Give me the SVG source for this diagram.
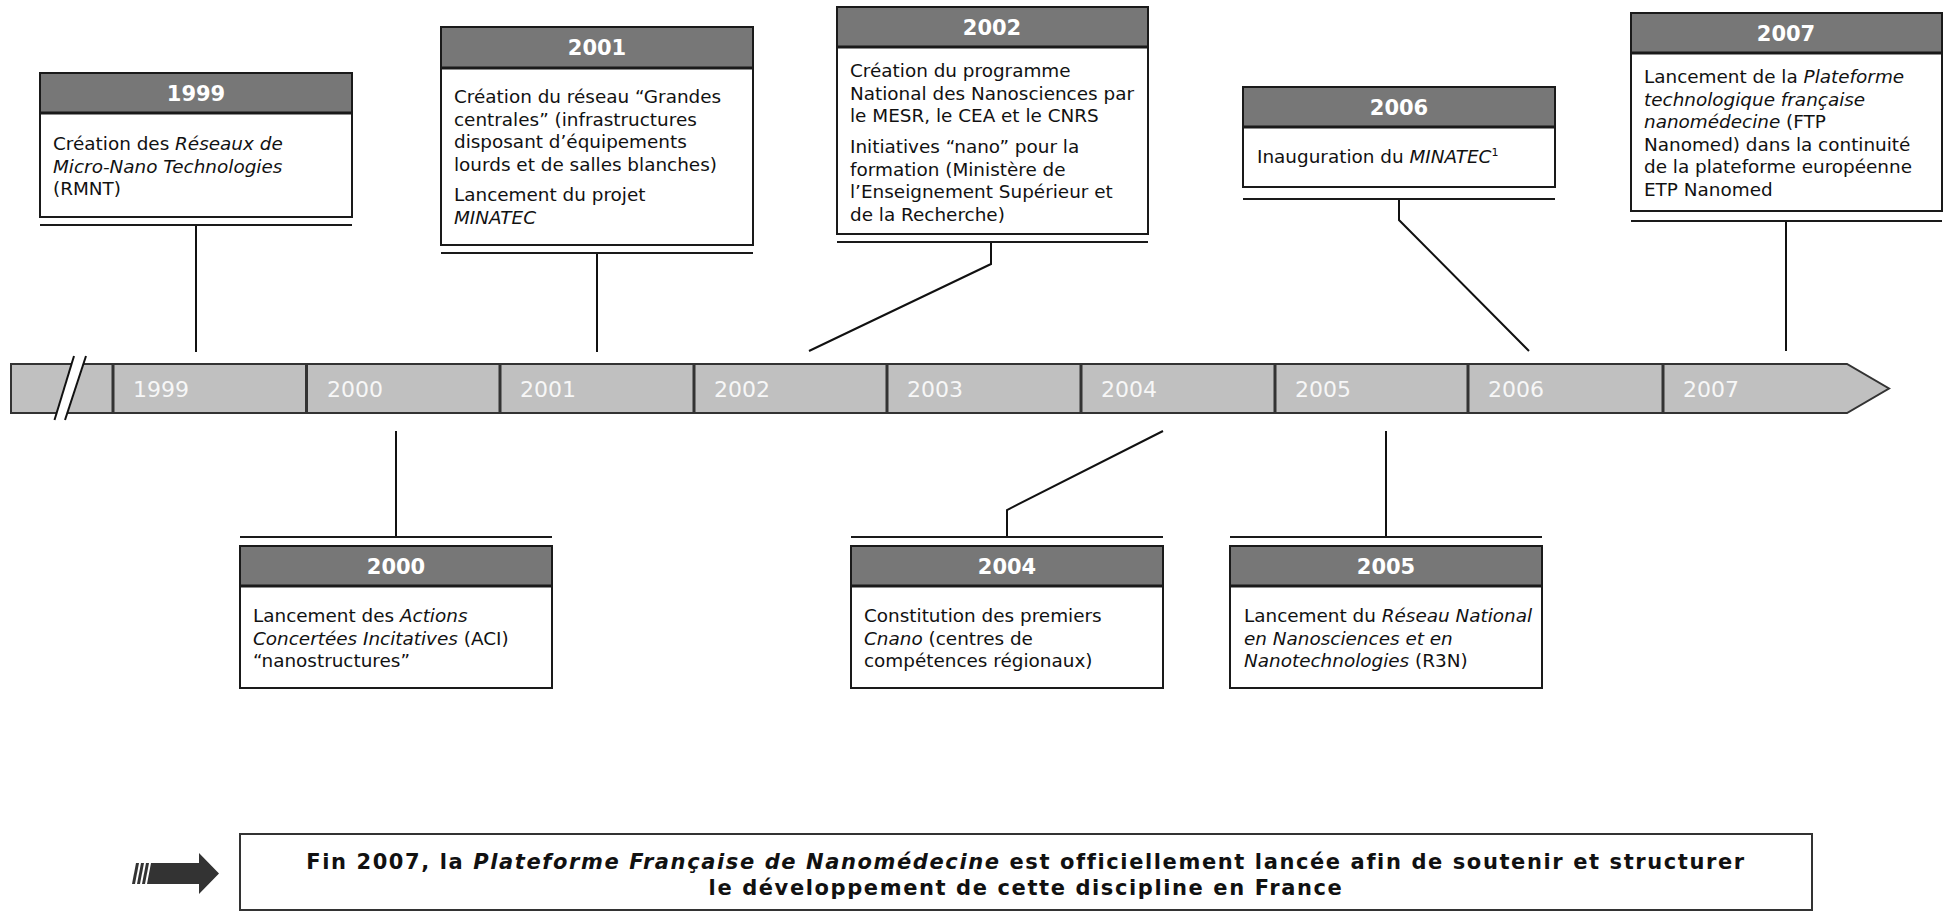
<svg xmlns="http://www.w3.org/2000/svg" width="1946" height="913" viewBox="0 0 1946 913">
  <style>
    .box { fill: #ffffff; stroke: #1a1a1a; stroke-width: 2; }
    .hdr { fill: #777777; stroke: #1a1a1a; stroke-width: 2; }
    .hdrline { stroke: #1a1a1a; stroke-width: 3; }
    .rule { stroke: #1a1a1a; stroke-width: 2; }
    .yr { font-family: "DejaVu Sans", Verdana, sans-serif; font-weight: bold; font-size: 21px; fill: #ffffff; text-anchor: middle; }
    .txt { font-family: "DejaVu Sans", Verdana, sans-serif; font-size: 18.4px; fill: #111111; }
    .it { font-style: italic; }
    .conn { stroke: #111111; stroke-width: 2; fill: none; }
    .bar { fill: #c0c0c0; stroke: #333333; stroke-width: 2; }
    .div { stroke: #333333; stroke-width: 3; }
    .tl { font-family: "DejaVu Sans", Verdana, sans-serif; font-size: 22px; fill: #f7f7f7; }
    .note { font-family: "DejaVu Sans", Verdana, sans-serif; font-weight: bold; font-size: 21px; letter-spacing: 1.6px; fill: #111111; text-anchor: middle; }
  </style>

  <!-- timeline bar -->
  <g id="timeline">
    <path class="bar" d="M11,364 H1847 L1889,388.5 L1847,413 H11 Z"/>
    <line class="div" x1="113" y1="364" x2="113" y2="413"/>
    <line class="div" x1="306.5" y1="364" x2="306.5" y2="413"/>
    <line class="div" x1="500" y1="364" x2="500" y2="413"/>
    <line class="div" x1="694" y1="364" x2="694" y2="413"/>
    <line class="div" x1="887" y1="364" x2="887" y2="413"/>
    <line class="div" x1="1081" y1="364" x2="1081" y2="413"/>
    <line class="div" x1="1275" y1="364" x2="1275" y2="413"/>
    <line class="div" x1="1468" y1="364" x2="1468" y2="413"/>
    <line class="div" x1="1663" y1="364" x2="1663" y2="413"/>
    <!-- break mark -->
    <polygon points="74,356 86,356 65,420 54.5,420" fill="#ffffff"/>
    <line x1="74" y1="356" x2="54.5" y2="420" stroke="#111" stroke-width="2"/>
    <line x1="86" y1="356" x2="65" y2="420" stroke="#111" stroke-width="2"/>
    <text class="tl" x="133" y="397">1999</text>
    <text class="tl" x="327" y="397">2000</text>
    <text class="tl" x="520" y="397">2001</text>
    <text class="tl" x="714" y="397">2002</text>
    <text class="tl" x="907" y="397">2003</text>
    <text class="tl" x="1101" y="397">2004</text>
    <text class="tl" x="1295" y="397">2005</text>
    <text class="tl" x="1488" y="397">2006</text>
    <text class="tl" x="1683" y="397">2007</text>
  </g>

  <!-- connectors -->
  <g id="connectors">
    <polyline class="conn" points="196,225 196,352"/>
    <polyline class="conn" points="597,253 597,352"/>
    <polyline class="conn" points="991,242 991,264 809,351"/>
    <polyline class="conn" points="1399,199 1399,220 1529,351"/>
    <polyline class="conn" points="1786,221 1786,351"/>
    <polyline class="conn" points="396,431 396,537"/>
    <polyline class="conn" points="1163,431 1007,510 1007,537"/>
    <polyline class="conn" points="1386,431 1386,537"/>
  </g>

  <!-- 1999 -->
  <g id="node-1999">
    <rect class="box" x="40" y="73" width="312" height="144"/>
    <rect class="hdr" x="40" y="73" width="312" height="40"/>
    <line class="hdrline" x1="40" y1="113" x2="352" y2="113"/>
    <text class="yr" x="196" y="101">1999</text>
    <text class="txt" x="53" y="150">Création des <tspan class="it">Réseaux de</tspan></text>
    <text class="txt it" x="53" y="172.5">Micro-Nano Technologies</text>
    <text class="txt" x="53" y="195">(RMNT)</text>
    <line class="rule" x1="40" y1="225" x2="352" y2="225"/>
  </g>

  <!-- 2001 -->
  <g id="node-2001">
    <rect class="box" x="441" y="27" width="312" height="218"/>
    <rect class="hdr" x="441" y="27" width="312" height="41"/>
    <line class="hdrline" x1="441" y1="68" x2="753" y2="68"/>
    <text class="yr" x="597" y="55">2001</text>
    <text class="txt" x="454" y="103">Création du réseau “Grandes</text>
    <text class="txt" x="454" y="125.5">centrales” (infrastructures</text>
    <text class="txt" x="454" y="148">disposant d’équipements</text>
    <text class="txt" x="454" y="170.5">lourds et de salles blanches)</text>
    <text class="txt" x="454" y="201">Lancement du projet</text>
    <text class="txt it" x="454" y="223.5">MINATEC</text>
    <line class="rule" x1="441" y1="253" x2="753" y2="253"/>
  </g>

  <!-- 2002 -->
  <g id="node-2002">
    <rect class="box" x="837" y="7" width="311" height="227"/>
    <rect class="hdr" x="837" y="7" width="311" height="40"/>
    <line class="hdrline" x1="837" y1="47" x2="1148" y2="47"/>
    <text class="yr" x="992" y="35">2002</text>
    <text class="txt" x="850" y="77">Création du programme</text>
    <text class="txt" x="850" y="99.5">National des Nanosciences par</text>
    <text class="txt" x="850" y="122">le MESR, le CEA et le CNRS</text>
    <text class="txt" x="850" y="153">Initiatives “nano” pour la</text>
    <text class="txt" x="850" y="175.5">formation (Ministère de</text>
    <text class="txt" x="850" y="198">l’Enseignement Supérieur et</text>
    <text class="txt" x="850" y="220.5">de la Recherche)</text>
    <line class="rule" x1="837" y1="242" x2="1148" y2="242"/>
  </g>

  <!-- 2006 -->
  <g id="node-2006">
    <rect class="box" x="1243" y="87" width="312" height="100"/>
    <rect class="hdr" x="1243" y="87" width="312" height="40"/>
    <line class="hdrline" x1="1243" y1="127" x2="1555" y2="127"/>
    <text class="yr" x="1399" y="115">2006</text>
    <text class="txt" x="1257" y="163">Inauguration du <tspan class="it">MINATEC</tspan><tspan font-size="11" dy="-7">1</tspan></text>
    <line class="rule" x1="1243" y1="199" x2="1555" y2="199"/>
  </g>

  <!-- 2007 -->
  <g id="node-2007">
    <rect class="box" x="1631" y="13" width="311" height="198"/>
    <rect class="hdr" x="1631" y="13" width="311" height="40"/>
    <line class="hdrline" x1="1631" y1="53" x2="1942" y2="53"/>
    <text class="yr" x="1786" y="41">2007</text>
    <text class="txt" x="1644" y="83">Lancement de la <tspan class="it">Plateforme</tspan></text>
    <text class="txt it" x="1644" y="105.5">technologique française</text>
    <text class="txt" x="1644" y="128"><tspan class="it">nanomédecine</tspan> (FTP</text>
    <text class="txt" x="1644" y="150.5">Nanomed) dans la continuité</text>
    <text class="txt" x="1644" y="173">de la plateforme européenne</text>
    <text class="txt" x="1644" y="195.5">ETP Nanomed</text>
    <line class="rule" x1="1631" y1="221" x2="1942" y2="221"/>
  </g>

  <!-- 2000 -->
  <g id="node-2000">
    <line class="rule" x1="240" y1="537" x2="552" y2="537"/>
    <rect class="box" x="240" y="546" width="312" height="142"/>
    <rect class="hdr" x="240" y="546" width="312" height="40"/>
    <line class="hdrline" x1="240" y1="586" x2="552" y2="586"/>
    <text class="yr" x="396" y="574">2000</text>
    <text class="txt" x="253" y="622">Lancement des <tspan class="it">Actions</tspan></text>
    <text class="txt" x="253" y="644.5"><tspan class="it">Concertées Incitatives</tspan> (ACI)</text>
    <text class="txt" x="253" y="667">“nanostructures”</text>
  </g>

  <!-- 2004 -->
  <g id="node-2004">
    <line class="rule" x1="851" y1="537" x2="1163" y2="537"/>
    <rect class="box" x="851" y="546" width="312" height="142"/>
    <rect class="hdr" x="851" y="546" width="312" height="40"/>
    <line class="hdrline" x1="851" y1="586" x2="1163" y2="586"/>
    <text class="yr" x="1007" y="574">2004</text>
    <text class="txt" x="864" y="622">Constitution des premiers</text>
    <text class="txt" x="864" y="644.5"><tspan class="it">Cnano</tspan> (centres de</text>
    <text class="txt" x="864" y="667">compétences régionaux)</text>
  </g>

  <!-- 2005 -->
  <g id="node-2005">
    <line class="rule" x1="1230" y1="537" x2="1542" y2="537"/>
    <rect class="box" x="1230" y="546" width="312" height="142"/>
    <rect class="hdr" x="1230" y="546" width="312" height="40"/>
    <line class="hdrline" x1="1230" y1="586" x2="1542" y2="586"/>
    <text class="yr" x="1386" y="574">2005</text>
    <text class="txt" x="1244" y="622">Lancement du <tspan class="it">Réseau National</tspan></text>
    <text class="txt it" x="1244" y="644.5">en Nanosciences et en</text>
    <text class="txt" x="1244" y="667"><tspan class="it">Nanotechnologies</tspan> (R3N)</text>
  </g>

  <!-- conclusion -->
  <g id="conclusion">
    <g fill="#333333">
      <polygon points="132,884 135,884 139,863 136,863"/>
      <polygon points="137,884 140,884 144,863 141,863"/>
      <polygon points="142,884 145,884 149,863 146,863"/>
      <polygon points="147,884 151,863 199,863 199,853 219,873.5 199,894 199,884"/>
    </g>
    <rect x="240" y="834" width="1572" height="76" fill="#ffffff" stroke="#333333" stroke-width="2"/>
    <text class="note" x="1026" y="869">Fin 2007, la <tspan font-style="italic">Plateforme Française de Nanomédecine</tspan> est officiellement lancée afin de soutenir et structurer</text>
    <text class="note" x="1026" y="895">le développement de cette discipline en France</text>
  </g>
</svg>
